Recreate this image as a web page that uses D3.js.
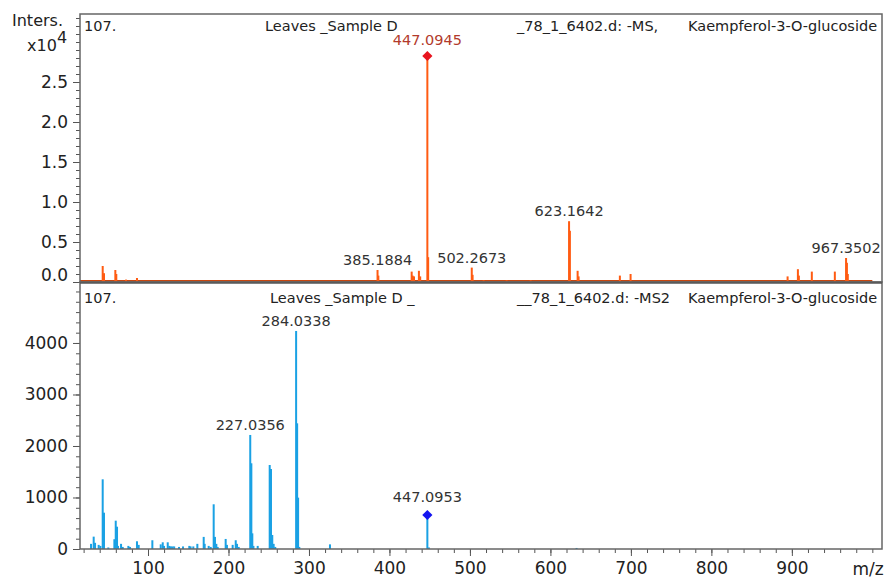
<!DOCTYPE html>
<meta charset="UTF-8">
<style>
body { margin: 0; background: #fff; }
text { font-family: "DejaVu Sans", sans-serif; fill: #222; }
.tick line, .domain { stroke: #555; }
.hdr { font-size: 14.5px; }
.plab { font-size: 14.5px; fill: #333; }
</style>
<svg width="884" height="578"></svg>
<script src="https://d3js.org/d3.v7.min.js"></script>
<script>
// MS scan (intensity x10^4)
var msMz  = [43.7, 45.3, 59.4, 60.6, 72.7, 86.3, 385.1884, 386.2, 427.6, 428.8, 430.5, 436.6, 438.2,
             447.0945, 448.1, 502.2673, 503.3, 517.0, 545.6, 575.4, 623.1642, 624.2, 633.8, 635.0,
             686.3, 699.6, 894.7, 907.5, 908.7, 924.8, 953.4, 967.3502, 968.4, 969.5];
var msInt = [0.20, 0.11, 0.15, 0.10, 0.03, 0.05, 0.15, 0.08, 0.13, 0.08, 0.07, 0.14, 0.07,
             2.825, 0.31, 0.18, 0.09, 0.02, 0.02, 0.02, 0.76, 0.64, 0.14, 0.07,
             0.08, 0.10, 0.07, 0.16, 0.08, 0.13, 0.13, 0.30, 0.24, 0.10];
var msLabels = ["385.1884", "502.2673", "623.1642", "967.3502"];

// MS2 scan (intensity)
var ms2Mz  = [29.2, 32.5, 34.2, 38.7, 40.8, 43.7, 45.3, 50.7, 58.2, 59.9, 61.5, 62.7, 66.5, 68.6,
              75.6, 77.6, 86.3, 88.4, 105.4, 115.8, 118.3, 119.9, 124.5, 126.5, 128.5, 130.5, 132.5,
              138.5, 143.5, 151.3, 152.9, 156.3, 161.3, 169.2, 170.4, 175.4, 177.9, 181.6, 183.2,
              184.9, 186.6, 196.5, 198.1, 205.2, 209.0, 210.6, 212.7, 227.0356, 228.4, 229.6, 231.0,
              236.3, 251.2, 252.8, 254.4, 256.1, 258.1, 284.0338, 285.3, 286.5, 288.0, 326.1,
              447.0953, 449.0, 632.5];
var ms2Int = [100, 240, 120, 80, 60, 1353, 705, 30, 190, 550, 433, 60, 100, 40,
              60, 40, 150, 80, 170, 90, 130, 60, 130, 60, 50, 50, 50,
              40, 50, 60, 50, 50, 100, 235, 100, 60, 40, 868, 235,
              100, 40, 195, 80, 80, 170, 100, 40, 2214, 1664, 304, 60,
              60, 1631, 1553, 272, 100, 40, 4233, 2440, 997, 40, 90,
              660, 30, 20];
var ms2Labels = ["227.0356", "284.0338"];

var xTicks = [100, 200, 300, 400, 500, 600, 700, 800, 900];
var topTicks = [0, 0.5, 1.0, 1.5, 2.0, 2.5];
var botTicks = [0, 1000, 2000, 3000, 4000];

var headerTop = ["107.", "Leaves _Sample D", "_78_1_6402.d: -MS,", "Kaempferol-3-O-glucoside"];
var headerBot = ["107.", "Leaves _Sample D _", "__78_1_6402.d: -MS2", "Kaempferol-3-O-glucoside"];

var L = 80, R = 882, T = 14, M = 282, B = 549;
var svg = d3.select("svg");

var x = d3.scaleLinear().domain([15.5, 1012]).range([L, R]);
var yTop = d3.scaleLinear().domain([0, 3.35]).range([M, T]);
var yBot = d3.scaleLinear().domain([0, 5184]).range([B, M]);

svg.append("defs").append("clipPath").attr("id", "clip")
    .append("rect").attr("x", L).attr("y", 0).attr("width", R - L).attr("height", 578);

// axes
var gy1 = svg.append("g").attr("transform", "translate(" + L + ",0)");
gy1.call(d3.axisLeft(yTop).tickValues(d3.range(1, 34).map(d => d / 10)).tickSize(4).tickFormat(""));
gy1.call(g => g.select(".domain").remove());
var gy1m = svg.append("g").attr("transform", "translate(" + L + ",0)")
    .call(d3.axisLeft(yTop).tickValues(topTicks).tickSize(7).tickPadding(5).tickFormat(d3.format(".1f")));
gy1m.select(".domain").remove();
gy1m.selectAll("text").style("font-size", "17px").attr("dy", d => d === 0 ? "-0.1em" : "0.32em");

var gy2 = svg.append("g").attr("transform", "translate(" + L + ",0)");
gy2.call(d3.axisLeft(yBot).tickValues(d3.range(200, 5001, 200)).tickSize(4).tickFormat(""));
gy2.select(".domain").remove();
var gy2m = svg.append("g").attr("transform", "translate(" + L + ",0)")
    .call(d3.axisLeft(yBot).tickValues(botTicks).tickSize(7).tickPadding(5).tickFormat(d3.format("d")));
gy2m.select(".domain").remove();
gy2m.selectAll("text").style("font-size", "17px");

var gx = svg.append("g").attr("transform", "translate(0," + B + ")");
gx.call(d3.axisBottom(x).tickValues(d3.range(20, 1001, 20)).tickSize(4).tickFormat(""));
gx.select(".domain").remove();
var gxm = svg.append("g").attr("transform", "translate(0," + B + ")")
    .call(d3.axisBottom(x).tickValues(xTicks).tickSize(7).tickPadding(6).tickFormat(d3.format("d")));
gxm.select(".domain").remove();
gxm.selectAll("text").style("font-size", "17px");

svg.append("text").attr("x", 868).attr("y", 575).attr("text-anchor", "middle")
    .style("font-size", "17px").text("m/z");

svg.append("text").attr("x", 12).attr("y", 26).style("font-size", "16px").text("Inters.");
svg.append("text").attr("x", 27).attr("y", 51).style("font-size", "16px").text("x10");
svg.append("text").attr("x", 57).attr("y", 43).style("font-size", "16px").text("4");

// spectra
var plot = svg.append("g").attr("clip-path", "url(#clip)");

plot.append("line").attr("x1", L).attr("x2", x(1000)).attr("y1", M - 1).attr("y2", M - 1)
    .attr("stroke", "#c8470f").attr("stroke-width", 2);

plot.selectAll("rect.ms").data(msMz).enter().append("rect").attr("class", "ms")
    .attr("x", d => x(d) - 1).attr("width", 2)
    .attr("y", (d, i) => yTop(msInt[i])).attr("height", (d, i) => M - yTop(msInt[i]))
    .attr("fill", "#ff5b12");

plot.selectAll("rect.ms2").data(ms2Mz).enter().append("rect").attr("class", "ms2")
    .attr("x", d => x(d) - 1).attr("width", 2)
    .attr("y", (d, i) => yBot(ms2Int[i])).attr("height", (d, i) => B - yBot(ms2Int[i]))
    .attr("fill", "#1aa1e4");

// frames
var frame = svg.append("g").attr("fill", "none").attr("stroke", "#666");
frame.append("rect").attr("x", L).attr("y", T).attr("width", R - L).attr("height", M - T).attr("stroke-width", 1.5);
frame.append("rect").attr("x", L).attr("y", M).attr("width", R - L).attr("height", B - M).attr("stroke-width", 1.5);
frame.append("line").attr("x1", L).attr("x2", R).attr("y1", M + 1).attr("y2", M + 1).attr("stroke", "#555").attr("stroke-width", 1.5);

// headers
var hx = [84, 265, 517, 688];
var hdr = svg.append("g").attr("clip-path", "url(#clip)");
headerTop.forEach((t, i) => hdr.append("text").attr("class", "hdr").attr("x", hx[i]).attr("y", 31).text(t));
headerBot.forEach((t, i) => hdr.append("text").attr("class", "hdr").attr("x", i === 1 ? 270 : hx[i]).attr("y", 303).text(t));

// peak labels
msLabels.forEach(s => {
    var i = msMz.indexOf(+s);
    svg.append("text").attr("class", "plab").attr("text-anchor", "middle")
        .attr("x", x(+s)).attr("y", yTop(msInt[i]) - 5).text(s);
});
ms2Labels.forEach(s => {
    var i = ms2Mz.indexOf(+s);
    svg.append("text").attr("class", "plab").attr("text-anchor", "middle")
        .attr("x", x(+s)).attr("y", yBot(ms2Int[i]) - 5).text(s);
});

// precursor markers
var sq = d3.symbol(d3.symbolSquare, 52);
var pTop = msMz.indexOf(447.0945), pBot = ms2Mz.indexOf(447.0953);
svg.append("path").attr("d", sq)
    .attr("transform", "translate(" + x(447.0945) + "," + yTop(msInt[pTop]) + ") rotate(45)")
    .attr("fill", "#e8141e");
svg.append("text").attr("class", "plab").attr("text-anchor", "middle").style("fill", "#b23a2c")
    .attr("x", x(447.0945)).attr("y", yTop(msInt[pTop]) - 11).text("447.0945");
svg.append("path").attr("d", sq)
    .attr("transform", "translate(" + x(447.0953) + "," + yBot(ms2Int[pBot]) + ") rotate(45)")
    .attr("fill", "#1414f0");
svg.append("text").attr("class", "plab").attr("text-anchor", "middle")
    .attr("x", x(447.0953)).attr("y", yBot(ms2Int[pBot]) - 13).text("447.0953");
</script>
